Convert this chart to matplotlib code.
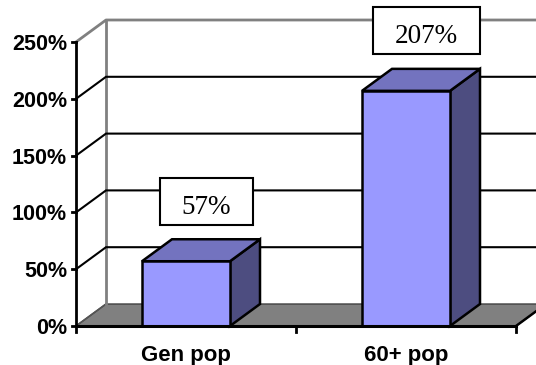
import matplotlib
matplotlib.use("Agg")
import matplotlib.pyplot as plt
from matplotlib.patches import Polygon, Rectangle

# Data
categories = ["Gen pop", "60+ pop"]
values = [57, 207]
value_labels = ["57%", "207%"]
y_ticks = [0, 50, 100, 150, 200, 250]
y_tick_labels = ["0%", "50%", "100%", "150%", "200%", "250%"]

# Figure geometry (pixels at dpi 100)
W, H, DPI = 536, 365, 100
ORIGIN_X, ORIGIN_Y = 76, 39          # front-plane origin, from the left / bottom
PX_PER_CAT, PX_PER_PCT = 220.0, 1.136
DEPTH_PX_X, DEPTH_PX_Y = 30, 22       # oblique depth of the 3-D box
BAR_WIDTH = 0.4
YMAX = 250

def px_x(p):
    return p / PX_PER_CAT

def px_y(p):
    return p / PX_PER_PCT

DX, DY = px_x(DEPTH_PX_X), px_y(DEPTH_PX_Y)
ncat = len(categories)

fig = plt.figure(figsize=(W / DPI, H / DPI), dpi=DPI)
ax = fig.add_axes([0, 0, 1, 1])
ax.set_xlim(-px_x(ORIGIN_X), px_x(W - ORIGIN_X))
ax.set_ylim(-px_y(ORIGIN_Y), px_y(H - ORIGIN_Y))
ax.axis("off")

GRAY = "#808080"
BLACK = "#000000"

# Floor
floor = Polygon([(0, 0), (ncat, 0), (ncat + DX, DY), (DX, DY)], closed=True,
                facecolor=GRAY, edgecolor="#404040", lw=1.0, zorder=1)
ax.add_patch(floor)
ax.plot([0, DX], [0, DY], color="#555555", lw=1.2, zorder=1.5)

# Back wall outline
ax.plot([DX, DX], [DY, YMAX + DY], color=GRAY, lw=2, zorder=2)
ax.plot([0, DX, ncat + DX], [YMAX, YMAX + DY, YMAX + DY], color=GRAY, lw=2, zorder=2)

# Gridlines on side wall and back wall
for v in y_ticks[1:-1]:
    ax.plot([0, DX, ncat + DX], [v, v + DY, v + DY], color=BLACK, lw=1.5,
            zorder=2, solid_joinstyle="miter")

# Bars
FRONT, TOP, SIDE = "#9999FF", "#7373BF", "#4D4D80"
for i, v in enumerate(values):
    x0 = i + 0.5 - BAR_WIDTH / 2
    x1 = i + 0.5 + BAR_WIDTH / 2
    kw = dict(closed=True, edgecolor=BLACK, lw=1.8, joinstyle="miter", zorder=5)
    ax.add_patch(Polygon([(x1, 0), (x1 + DX, DY), (x1 + DX, v + DY), (x1, v)],
                         facecolor=SIDE, **kw))
    ax.add_patch(Polygon([(x0, v), (x1, v), (x1 + DX, v + DY), (x0 + DX, v + DY)],
                         facecolor=TOP, **kw))
    ax.add_patch(Polygon([(x0, 0), (x1, 0), (x1, v), (x0, v)],
                         facecolor=FRONT, **kw))

# Front axes
ax.plot([0, 0], [0, YMAX], color=BLACK, lw=2, zorder=6)
ax.plot([0, ncat], [0, 0], color=BLACK, lw=2.2, zorder=6)
ax.plot([ncat, ncat + DX], [0, DY], color=BLACK, lw=1.8, zorder=6)
for v, lab in zip(y_ticks, y_tick_labels):
    ax.plot([-px_x(4), 0], [v, v], color=BLACK, lw=2, zorder=6)
    ax.text(-px_x(9), v - px_y(8), lab, ha="right", va="baseline",
            fontsize=15.5, fontweight="bold", family="Liberation Sans", zorder=7)
for k in range(ncat + 1):
    ax.plot([k, k], [0, -px_y(6)], color=BLACK, lw=2, zorder=6)
for i, c in enumerate(categories):
    ax.text(i + 0.5, -px_y(35), c, ha="center", va="baseline",
            fontsize=16, fontweight="bold", family="Liberation Sans", zorder=7)

# Value labels in boxes
fig.canvas.draw()
renderer = fig.canvas.get_renderer()
for i, (v, lab) in enumerate(zip(values, value_labels)):
    xc = i + 0.5 + px_x(20.5)
    yb = v + px_y(47.5)
    t = ax.text(xc, yb, lab, ha="center", va="baseline", fontsize=19.5,
                family="Liberation Serif", zorder=9)
    bb = t.get_window_extent(renderer)
    half_w = px_x(bb.width / 2 + 22)
    ax.add_patch(Rectangle((xc - half_w, yb - px_y(11)), 2 * half_w, px_y(47),
                           facecolor="white", edgecolor=BLACK, lw=1.5, zorder=8))

fig.savefig("out.png", dpi=DPI)
